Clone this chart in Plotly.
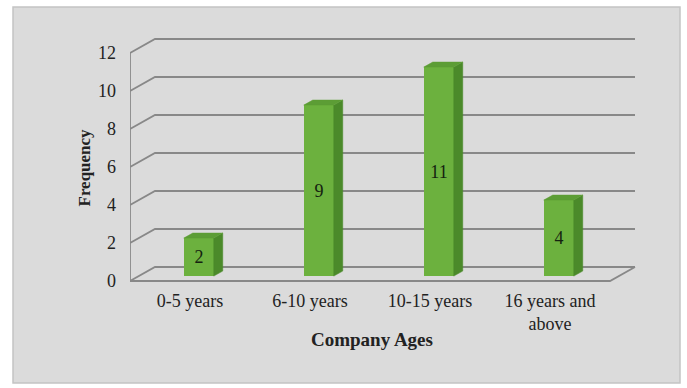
import plotly.graph_objects as go

# Data
categories = ["0-5 years", "6-10 years", "10-15 years", "16 years and<br>above"]
frequency = [2, 9, 11, 4]
y_ticks = [0, 2, 4, 6, 8, 10, 12]

# Oblique "3D" look: depth vector of the wall (in data units)
DX, DY = 25 / 120, 14 / 19
F0, F1 = 0.35, 0.71          # bar front / back depth fractions
HALF_W = 0.125                # half width of a bar's front face
X_LEFT, X_RIGHT = -0.5, len(categories) - 0.5

FRONT = "#6cb13e"
SIDE = "#4b8a2a"
TOP = "#5c9d35"
GRID = "#888888"
BG = "#dbdbdb"
SERIF = "Liberation Serif, Times New Roman, serif"

fig = go.Figure()
shapes = []

# Chart area background
px_l, px_r, px_t, px_b = 130, 640, 35, 285
W, H = px_r - px_l, px_b - px_t
shapes.append(dict(type="rect", xref="paper", yref="paper",
                   x0=(13 - px_l) / W, x1=(680 - px_l) / W,
                   y0=(px_b - 383) / H, y1=(px_b - 7) / H,
                   fillcolor=BG, line=dict(color="#c4c4c4", width=1.5), layer="below"))


def polyline(pts):
    return "M " + " L ".join(f"{x},{y}" for x, y in pts)


line_style = dict(color=GRID, width=1.8)

# Back-wall gridlines with the diagonal running from the value axis
for t in y_ticks:
    shapes.append(dict(type="path", xref="x", yref="y", layer="below", line=line_style,
                       path=polyline([(X_LEFT, t), (X_LEFT + DX, t + DY), (X_RIGHT + DX, t + DY)])))

# Floor front edge and value axis line
shapes.append(dict(type="path", xref="x", yref="y", layer="below", line=line_style,
                   path=polyline([(X_LEFT, 0), (X_RIGHT, 0), (X_RIGHT + DX, DY)])))
shapes.append(dict(type="path", xref="x", yref="y", layer="below", line=line_style,
                   path=polyline([(X_LEFT, 0), (X_LEFT, y_ticks[-1])])))

# Bars: side and top faces as polygons, front face as a bar trace
ddx, ddy = (F1 - F0) * DX, (F1 - F0) * DY
base = F0 * DY
for i, v in enumerate(frequency):
    xc = i + F0 * DX
    xl, xr = xc - HALF_W, xc + HALF_W
    top = base + v
    fig.add_trace(go.Scatter(
        x=[xr, xr + ddx, xr + ddx, xr, xr], y=[base, base + ddy, top + ddy, top, base],
        fill="toself", fillcolor=SIDE, mode="lines", line=dict(color=SIDE, width=0.5),
        hoverinfo="skip", showlegend=False))
    fig.add_trace(go.Scatter(
        x=[xl, xr, xr + ddx, xl + ddx, xl], y=[top, top, top + ddy, top + ddy, top],
        fill="toself", fillcolor=TOP, mode="lines", line=dict(color=TOP, width=0.5),
        hoverinfo="skip", showlegend=False))

fig.add_trace(go.Bar(
    x=[i + F0 * DX for i in range(len(frequency))], y=frequency, base=base,
    width=2 * HALF_W, marker=dict(color=FRONT, line=dict(width=0)),
    text=[str(v) for v in frequency], textposition="inside", insidetextanchor="middle",
    textangle=0, textfont=dict(family=SERIF, size=18, color="#142210"),
    showlegend=False, hoverinfo="skip"))

# Axis titles
fig.add_annotation(text="<b>Frequency</b>", xref="paper", yref="paper",
                   x=(72 - px_l) / W, y=(px_b - 168) / H, textangle=-90, showarrow=False,
                   font=dict(family=SERIF, size=17, color="#222222"))
fig.add_annotation(text="<b>Company Ages</b>", xref="paper", yref="paper",
                   x=(372 - px_l) / W, y=(px_b - 352) / H, showarrow=False,
                   font=dict(family=SERIF, size=19, color="#222222"))

fig.update_layout(
    width=687, height=388,
    margin=dict(l=px_l, r=687 - px_r, t=px_t, b=388 - px_b, pad=0),
    paper_bgcolor="white", plot_bgcolor="rgba(0,0,0,0)",
    shapes=shapes, bargap=0,
    xaxis=dict(range=[(px_l - 190) / 120, (px_r - 190) / 120],
               tickvals=list(range(len(categories))), ticktext=categories,
               showgrid=False, zeroline=False, showline=False, ticks="",
               ticklabelstandoff=3,
               tickfont=dict(family=SERIF, size=18, color="#222222")),
    yaxis=dict(range=[(281 - px_b) / 19, (281 - px_t) / 19],
               tickvals=y_ticks, showgrid=False, zeroline=False, showline=False, ticks="",
               ticklabelstandoff=13,
               tickfont=dict(family=SERIF, size=18, color="#222222")),
)

fig.write_html("out.html")
